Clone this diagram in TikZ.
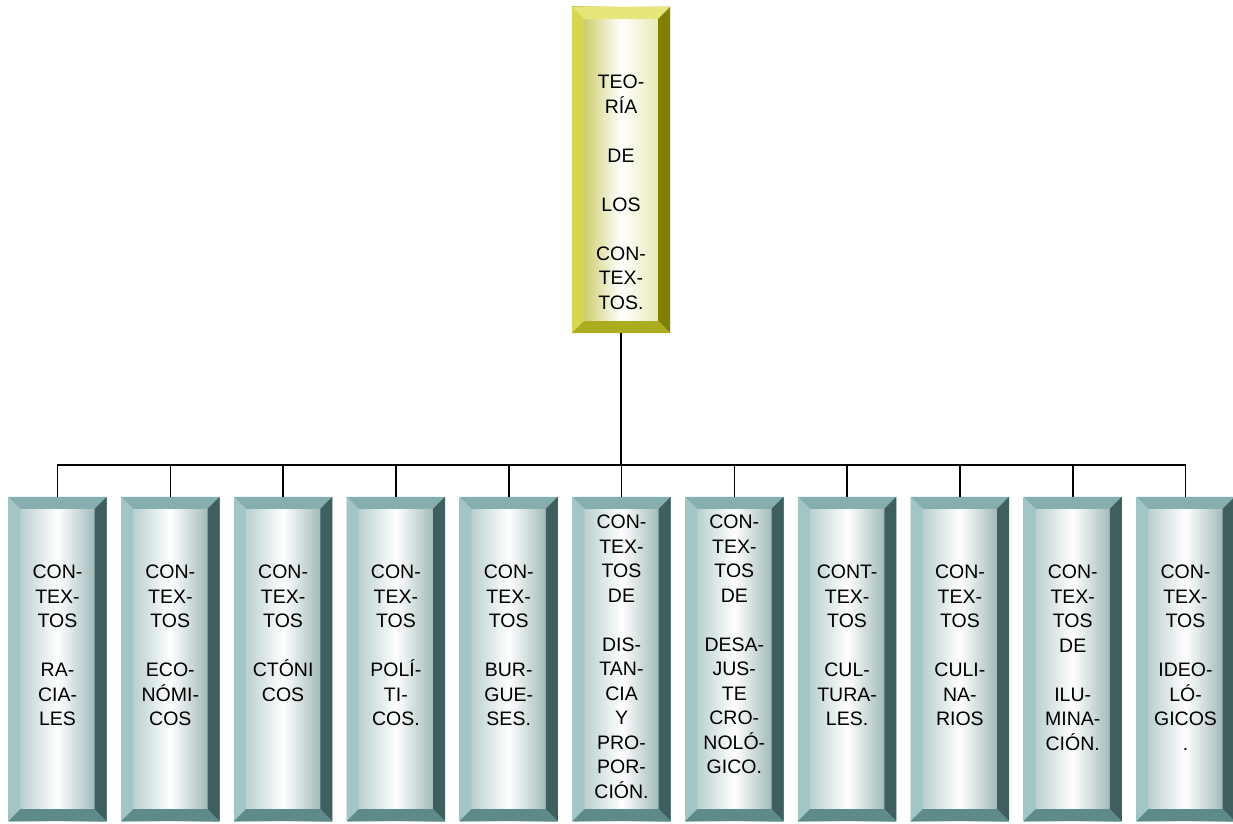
\documentclass[tikz,border=0pt]{standalone}
\usepackage{fontspec}
\setmainfont{Liberation Sans}
\definecolor{tTop}{HTML}{86AEAE}
\definecolor{tLeft}{HTML}{A2C6C6}
\definecolor{tRight}{HTML}{3F5F5F}
\definecolor{tBot}{HTML}{5E8A8A}
\definecolor{tFaceL}{HTML}{A4C0C0}
\definecolor{tFaceR}{HTML}{84A4A4}
\definecolor{yTop}{HTML}{E6E67A}
\definecolor{yLeft}{HTML}{D6D650}
\definecolor{yRight}{HTML}{808000}
\definecolor{yBot}{HTML}{ACAC20}
\definecolor{yFaceL}{HTML}{BEBE40}
\definecolor{yFaceR}{HTML}{E2E2A0}
\tikzset{
  tealbox/.style={rectangle, minimum width=98pt, minimum height=324pt, inner sep=0pt,
    left color=tFaceL, right color=tFaceR, middle color=white},
  yelbox/.style={rectangle, minimum width=98pt, minimum height=326pt, inner sep=0pt,
    left color=yFaceL, right color=yFaceR, middle color=white},
  txt/.style={anchor=north, inner sep=0pt, align=center, text=black,
    font=\fontsize{19.5}{24.5}\selectfont},
  conn/.style={draw=black, line width=1.6pt}
}
\newcommand{\bevelbox}[5]{%
  \fill[#2] (#1.north west) -- (#1.north east) -- ([shift={(-12pt,-12pt)}]#1.north east) -- ([shift={(12pt,-12pt)}]#1.north west) -- cycle;
  \fill[#3] (#1.north west) -- ([shift={(12pt,-12pt)}]#1.north west) -- ([shift={(12pt,12pt)}]#1.south west) -- (#1.south west) -- cycle;
  \fill[#4] (#1.north east) -- ([shift={(-12pt,-12pt)}]#1.north east) -- ([shift={(-12pt,12pt)}]#1.south east) -- (#1.south east) -- cycle;
  \fill[#5] (#1.south west) -- ([shift={(12pt,12pt)}]#1.south west) -- ([shift={(-12pt,12pt)}]#1.south east) -- (#1.south east) -- cycle;
}
\begin{document}
\begin{tikzpicture}[x=1pt,y=1pt]
\useasboundingbox (0,0) rectangle (1233,823);
% top box
\node[yelbox] (top) at (621,653) {};
\bevelbox{top}{yTop}{yLeft}{yRight}{yBot}
% bottom boxes
\foreach \i/\x in {1/57.5,2/170.3,3/283.1,4/395.9,5/508.7,6/621.5,7/734.3,8/847.1,9/959.9,10/1072.7,11/1185.5}{
  \node[tealbox] (b\i) at (\x,164) {};
  \bevelbox{b\i}{tTop}{tLeft}{tRight}{tBot}
}
% connectors
\coordinate (bus) at (0,358);
\draw[conn] (top.south) -- (top.south |- bus);
\draw[conn] (b1.north) -- (b1.north |- bus) -- (b11.north |- bus) -- (b11.north);
\foreach \i in {2,...,10}{
  \draw[conn] (b\i.north) -- (b\i.north |- bus);
}
% texts
\node[txt] (t0) at ([yshift=-68pt]top.north) {TEO-\\RÍA\\[24.5pt]DE\\[24.5pt]LOS\\[24.5pt]CON-\\TEX-\\TOS.};
\node[txt] (t1) at ([yshift=-68pt]b1.north) {CON-\\TEX-\\TOS\\[24.5pt]RA-\\CIA-\\LES};
\node[txt] (t2) at ([yshift=-68pt]b2.north) {CON-\\TEX-\\TOS\\[24.5pt]ECO-\\NÓMI-\\COS};
\node[txt] (t3) at ([yshift=-68pt]b3.north) {CON-\\TEX-\\TOS\\[24.5pt]CTÓNI\\COS};
\node[txt] (t4) at ([yshift=-68pt]b4.north) {CON-\\TEX-\\TOS\\[24.5pt]POLÍ-\\TI-\\COS.};
\node[txt] (t5) at ([yshift=-68pt]b5.north) {CON-\\TEX-\\TOS\\[24.5pt]BUR-\\GUE-\\SES.};
\node[txt] (t6) at ([yshift=-18pt]b6.north) {CON-\\TEX-\\TOS\\DE\\[24.5pt]DIS-\\TAN-\\CIA\\Y\\PRO-\\POR-\\CIÓN.};
\node[txt] (t7) at ([yshift=-18pt]b7.north) {CON-\\TEX-\\TOS\\DE\\[24.5pt]DESA-\\JUS-\\TE\\CRO-\\NOLÓ-\\GICO.};
\node[txt] (t8) at ([yshift=-68pt]b8.north) {CONT-\\TEX-\\TOS\\[24.5pt]CUL-\\TURA-\\LES.};
\node[txt] (t9) at ([yshift=-68pt]b9.north) {CON-\\TEX-\\TOS\\[24.5pt]CULI-\\NA-\\RIOS};
\node[txt] (t10) at ([yshift=-68pt]b10.north) {CON-\\TEX-\\TOS\\DE\\[24.5pt]ILU-\\MINA-\\CIÓN.};
\node[txt] (t11) at ([yshift=-68pt]b11.north) {CON-\\TEX-\\TOS\\[24.5pt]IDEO-\\LÓ-\\GICOS\\.};
\end{tikzpicture}
\end{document}
